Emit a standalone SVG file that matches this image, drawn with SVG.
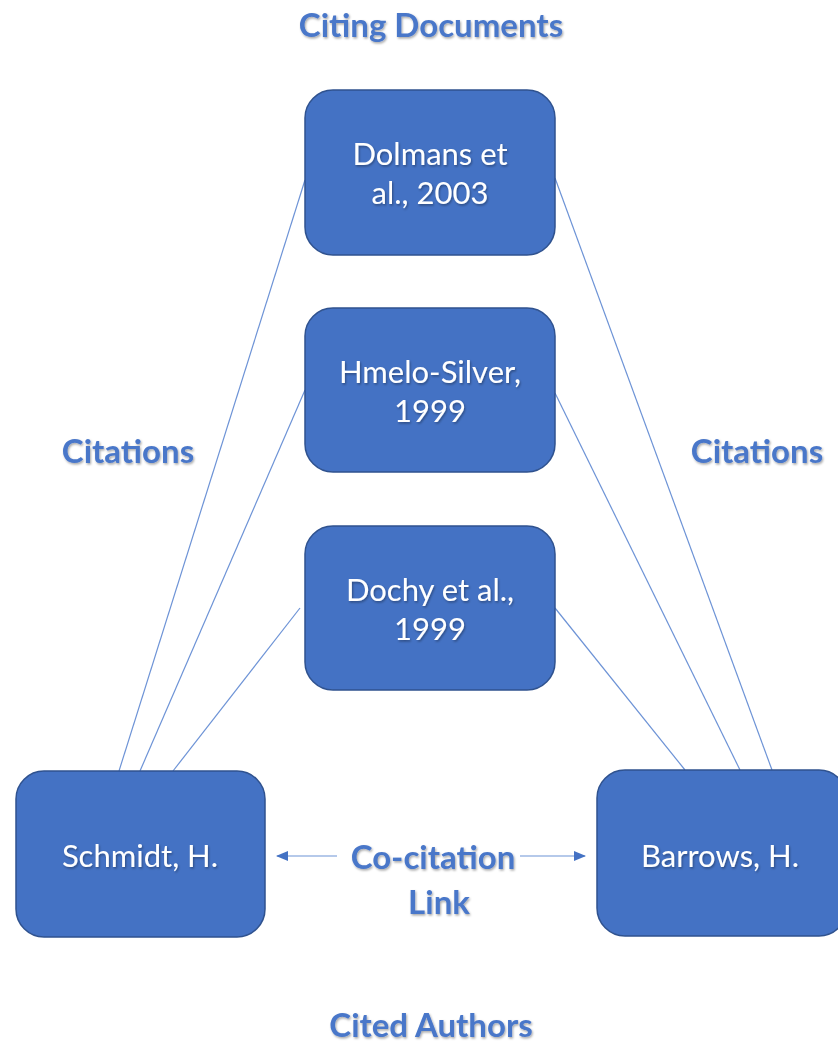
<svg xmlns="http://www.w3.org/2000/svg" width="838" height="1043" viewBox="0 0 838 1043">
<style>
.box{fill:#4472C4;stroke:#2F528F;stroke-width:1.5}
.bt{fill:#fff;font-family:Lato,"Open Sans",sans-serif;font-size:31px;text-anchor:middle}
.lbl{fill:#4A77C9;font-family:Lato,"Open Sans",sans-serif;font-size:33px;font-weight:bold;text-anchor:middle}
.ln{stroke:#6D93D6;stroke-width:1.2;fill:none}
</style>
<defs>
<filter id="sh" x="-10%" y="-10%" width="120%" height="130%"><feDropShadow dx="1" dy="1.5" stdDeviation="1" flood-color="#000" flood-opacity="0.35"/></filter>
<marker id="ah" markerWidth="12" markerHeight="10" refX="11" refY="5" orient="auto" markerUnits="userSpaceOnUse"><path d="M0,0 L12,5 L0,10 z" fill="#4472C4"/></marker>
</defs>
<g id="connectors">
<line class="ln" x1="305" y1="180" x2="119" y2="771"/>
<line class="ln" x1="305" y1="390" x2="140" y2="771"/>
<line class="ln" x1="300" y1="608" x2="173" y2="771"/>
<line class="ln" x1="555" y1="178" x2="772" y2="770"/>
<line class="ln" x1="555" y1="393" x2="740" y2="770"/>
<line class="ln" x1="555" y1="608" x2="685" y2="770"/>
<line class="ln" x1="337" y1="856" x2="277" y2="856" stroke="#4472C4" marker-end="url(#ah)"/>
<line class="ln" x1="520" y1="856" x2="585" y2="856" stroke="#4472C4" marker-end="url(#ah)"/>
</g>
<g id="dolmans"><rect class="box" x="305" y="90" width="250" height="165" rx="28"/><g filter="url(#sh)"><text class="bt" x="430" y="165">Dolmans et</text><text class="bt" x="430" y="204">al., 2003</text></g></g>
<g id="hmelo"><rect class="box" x="305" y="308" width="250" height="164" rx="28"/><g filter="url(#sh)"><text class="bt" x="430" y="383">Hmelo-Silver,</text><text class="bt" x="430" y="422">1999</text></g></g>
<g id="dochy"><rect class="box" x="305" y="526" width="250" height="164" rx="28"/><g filter="url(#sh)"><text class="bt" x="430" y="601">Dochy et al.,</text><text class="bt" x="430" y="640">1999</text></g></g>
<g id="schmidt"><rect class="box" x="16" y="771" width="249" height="166" rx="28"/><g filter="url(#sh)"><text class="bt" x="140" y="867">Schmidt, H.</text></g></g>
<g id="barrows"><rect class="box" x="597" y="770" width="250" height="166" rx="28"/><g filter="url(#sh)"><text class="bt" x="720" y="867">Barrows, H.</text></g></g>
<g id="labels" filter="url(#sh)">
<text class="lbl" x="431" y="37">Citing Documents</text>
<text class="lbl" x="128" y="463">Citations</text>
<text class="lbl" x="757" y="463">Citations</text>
<text class="lbl" x="433" y="869">Co-citation</text>
<text class="lbl" x="439" y="914">Link</text>
<text class="lbl" x="431" y="1037">Cited Authors</text>
</g>
</svg>
